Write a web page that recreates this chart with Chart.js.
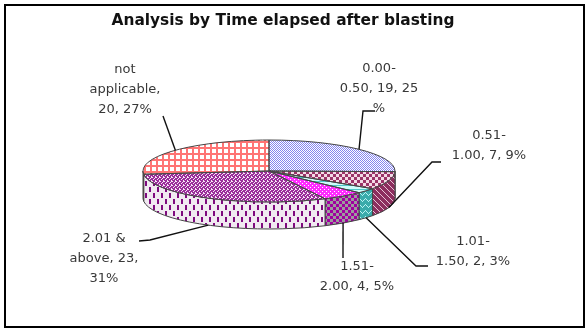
<!DOCTYPE html>
<html>
<head>
<meta charset="utf-8">
<title>Analysis by Time elapsed after blasting</title>
<script src="https://cdn.jsdelivr.net/npm/chart.js@4.4.0/dist/chart.umd.min.js"></script>
<style>
  html, body { margin: 0; padding: 0; background: #fff; }
  canvas { display: block; }
</style>
</head>
<body>
<canvas id="pie" width="587" height="331"></canvas>
<script>
const chartTitle = 'Analysis by Time elapsed after blasting';
const categories = ['0.00-0.50', '0.51-1.00', '1.01-1.50', '1.51-2.00', '2.01 & above', 'not applicable'];
const counts = [19, 7, 2, 4, 23, 20];
const percents = [25, 9, 3, 5, 31, 27];
// data labels, wrapped the way Excel wrapped them
const labelLines = [
  ['0.00-', '0.50, 19, 25', '%'],
  ['0.51-', '1.00, 7, 9%'],
  ['1.01-', '1.50, 2, 3%'],
  ['1.51-', '2.00, 4, 5%'],
  ['2.01 &', 'above, 23,', '31%'],
  ['not', 'applicable,', '20, 27%']
];

const TILT = 0.246;   // vertical squash of the pie
const DEPTH = 27;     // height of the side wall
const FONT = '"DejaVu Sans", Verdana, sans-serif';

// where each data label sits, and the bend of its leader line
const labelPos = [
  { x: 379, y: 69, front: false, pts: [[363, 111], [375, 111]] },
  { x: 489, y: 136, front: true, pts: [[432, 162], [441, 162]] },
  { x: 473, y: 242, front: true, pts: [[416, 266], [428, 266]] },
  { x: 357, y: 267, front: true, pts: [[343, 258]] },
  { x: 104, y: 239, front: true, pts: [[150, 240], [139, 241]] },
  { x: 125, y: 70, front: false, pts: [[163, 116]] }
];

const canvas = document.getElementById('pie');
const ctx = canvas.getContext('2d');

function tile(w, h, bg, paint) {
  const c = document.createElement('canvas');
  c.width = w; c.height = h;
  const g = c.getContext('2d');
  g.fillStyle = bg;
  g.fillRect(0, 0, w, h);
  paint(g);
  return ctx.createPattern(c, 'repeat');
}
function px(g, color, list) {
  g.fillStyle = color;
  list.forEach(([x, y, w, h]) => g.fillRect(x, y, w || 1, h || 1));
}
// top faces are drawn in a squashed context, so undo the squash on the pattern
function topTile(w, h, bg, paint) {
  const p = tile(w, h, bg, paint);
  p.setTransform(new DOMMatrix().scale(1, 1 / TILT));
  return p;
}

const topPatterns = [
  topTile(4, 4, '#8484ee', g => px(g, '#ffffff', [[0,0],[2,0],[1,1],[3,1],[0,2],[2,2],[1,3],[3,3]])),
  topTile(6, 6, '#f3dbe6', g => px(g, '#9b3468', [[0,0,3,3],[3,3,3,3]])),
  topTile(4, 4, '#cffcfc', g => px(g, '#4ec8c8', [[0,0,4,1]])),
  topTile(4, 4, '#ff2cff', g => px(g, '#ffffff', [[0,0],[2,2]])),
  topTile(4, 4, '#9a2e9a', g => px(g, '#f6e6f6', [[0,0],[2,1],[1,2],[3,3],[3,0]])),
  topTile(6, 6, '#ffffff', g => px(g, '#ff7474', [[0,0,6,2],[0,0,2,6]]))
];
const sidePatterns = [
  tile(4, 4, '#9a9ae0', g => px(g, '#ffffff', [[0,0],[2,2]])),
  tile(6, 6, '#8c2e5e', g => px(g, '#e6c3d5', [[0,0],[1,1],[2,2],[3,3],[4,4],[5,5]])),
  tile(6, 6, '#3aabab', g => px(g, '#b8f2f2', [[0,1],[1,2],[2,3],[3,2],[4,1],[5,0]])),
  tile(6, 6, '#9c9c9c', g => px(g, '#a000a0', [[0,0,3,3],[3,3,3,3]])),
  tile(8, 12, '#f1eaf1', g => px(g, '#7e0a7e', [[1,1,2,5],[5,7,2,5]])),
  tile(6, 6, '#e07070', g => px(g, '#ffffff', [[0,0]]))
];

const pie3d = {
  id: 'pie3d',
  beforeDatasetsDraw(chart) {
    const c = chart.ctx;
    const arcs = chart.getDatasetMeta(0).data;
    const { x: cx, y: cy, outerRadius: r } = arcs[0];
    c.imageSmoothingEnabled = false;
    // side wall of the slices that face the viewer
    arcs.forEach((arc, i) => {
      const a0 = Math.max(arc.startAngle, 0);
      const a1 = Math.min(arc.endAngle, Math.PI);
      if (a1 <= a0) return;
      c.beginPath();
      c.ellipse(cx, cy, r, r * TILT, 0, a0, a1);
      c.ellipse(cx, cy + DEPTH, r, r * TILT, 0, a1, a0, true);
      c.closePath();
      c.fillStyle = sidePatterns[i];
      c.fill();
      c.strokeStyle = '#454545';
      c.lineWidth = 1;
      c.stroke();
    });
    c.save();
    c.imageSmoothingEnabled = false;
    c.translate(cx, cy);
    c.scale(1, TILT);
    c.translate(-cx, -cy);
  },
  afterDatasetsDraw(chart) {
    const c = chart.ctx;
    c.restore();
    const arcs = chart.getDatasetMeta(0).data;
    c.strokeStyle = '#454545';
    c.lineWidth = 1;
    arcs.forEach(arc => {
      c.beginPath();
      c.moveTo(arc.x, arc.y);
      c.ellipse(arc.x, arc.y, arc.outerRadius, arc.outerRadius * TILT, 0, arc.startAngle, arc.endAngle);
      c.closePath();
      c.stroke();
    });
  },
  afterDraw(chart) {
    const c = chart.ctx;
    const arcs = chart.getDatasetMeta(0).data;
    c.save();
    // leader lines
    c.strokeStyle = '#111';
    c.lineWidth = 1.4;
    arcs.forEach((arc, i) => {
      const m = (arc.startAngle + arc.endAngle) / 2;
      const p = labelPos[i];
      const ax = arc.x + arc.outerRadius * Math.cos(m);
      const ay = arc.y + arc.outerRadius * TILT * Math.sin(m) + (p.front ? DEPTH : 0);
      c.beginPath();
      c.moveTo(ax, ay);
      p.pts.forEach(([x, y]) => c.lineTo(x, y));
      c.stroke();
    });
    // data labels
    c.fillStyle = '#383838';
    c.font = '13px ' + FONT;
    c.textAlign = 'center';
    c.textBaseline = 'middle';
    labelLines.forEach((lines, i) => {
      const p = labelPos[i];
      lines.forEach((t, k) => c.fillText(t, p.x, p.y + k * 20));
    });
    // title
    c.fillStyle = '#111';
    c.font = 'bold 15.4px ' + FONT;
    c.fillText(chartTitle, 283, 21);
    // outer frame
    c.strokeStyle = '#000';
    c.lineWidth = 2;
    c.strokeRect(5, 5, 579, 322);
    c.restore();
  }
};

new Chart(canvas, {
  type: 'pie',
  data: {
    labels: categories,
    datasets: [{
      data: counts,
      backgroundColor: topPatterns,
      borderWidth: 0,
      clip: false
    }]
  },
  options: {
    responsive: false,
    animation: false,
    events: [],
    devicePixelRatio: 1,
    radius: 126,
    layout: { padding: { left: 0, right: 49, top: 11, bottom: 0 } },
    plugins: {
      legend: { display: false },
      tooltip: { enabled: false },
      title: { display: false }
    }
  },
  plugins: [pie3d]
});
</script>
</body>
</html>
